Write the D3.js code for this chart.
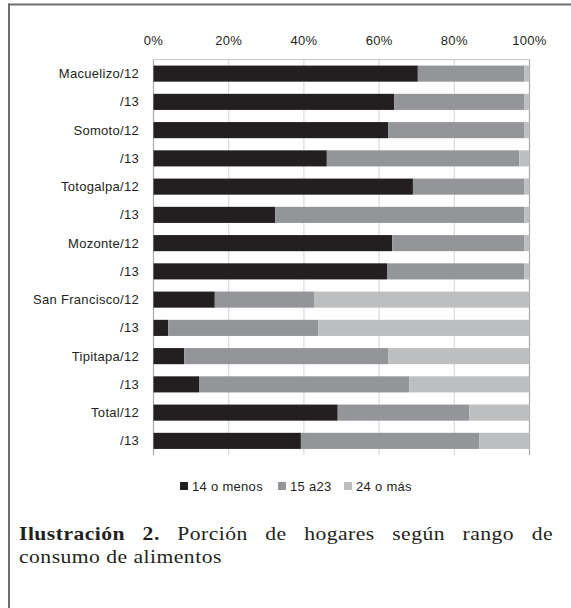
<!DOCTYPE html>
<html>
<head>
<meta charset="utf-8">
<script src="https://cdn.jsdelivr.net/npm/d3@7"></script>
<style>
  body { margin: 0; background: #fff; }
  svg { display: block; }
</style>
</head>
<body>
<svg id="chart" width="571" height="608"></svg>
<script>
// data (percent of households)
var categories = ["Macuelizo/12", "/13", "Somoto/12", "/13", "Totogalpa/12", "/13", "Mozonte/12", "/13",
                  "San Francisco/12", "/13", "Tipitapa/12", "/13", "Total/12", "/13"];
var menos14 = [70.3, 64.0, 62.4, 46.1, 69.0, 32.4, 63.5, 62.1, 16.3, 3.9, 8.2, 12.1, 49.0, 39.2];
var de15a23 = [28.3, 34.6, 36.2, 51.2, 29.6, 66.2, 35.1, 36.5, 26.4, 39.9, 54.2, 55.9, 35.0, 47.4];
var mas24   = [1.4, 1.4, 1.4, 2.7, 1.4, 1.4, 1.4, 1.4, 57.3, 56.2, 37.6, 32.0, 16.0, 13.4];
var seriesNames = ["14 o menos", "15 a23", "24 o más"];
var tickValues = [0, 20, 40, 60, 80, 100];

var colors = ["#231f20", "#939598", "#bcbec0"];

var svg = d3.select("#chart");

// page frame (top and left rules)
svg.append("line").attr("x1", 8).attr("x2", 571).attr("y1", 4.5).attr("y2", 4.5)
  .attr("stroke", "#6d6e71").attr("stroke-width", 2);
svg.append("line").attr("x1", 9).attr("x2", 9).attr("y1", 3.5).attr("y2", 608)
  .attr("stroke", "#6d6e71").attr("stroke-width", 2);

var plot = {left: 153.5, right: 529.5, top: 59.5, bottom: 455};

var x = d3.scaleLinear().domain([0, 100]).range([plot.left, plot.right]);
var y = d3.scaleBand()
  .domain(d3.range(categories.length))
  .range([plot.top, plot.bottom])
  .paddingInner(0.43)
  .paddingOuter(0.215);

var rows = categories.map(function(c, i){
  return {label: c, 0: menos14[i], 1: de15a23[i], 2: mas24[i]};
});
var stacked = d3.stack().keys([0, 1, 2])(rows);

var textFont = "'Liberation Sans', Arial, sans-serif";

// gridlines
svg.append("g").selectAll("line")
  .data(tickValues)
  .enter().append("line")
    .attr("x1", function(d){ return x(d); })
    .attr("x2", function(d){ return x(d); })
    .attr("y1", plot.top)
    .attr("y2", plot.bottom)
    .attr("stroke", function(d){ return (d == 0 || d == 100) ? "#a7a9ac" : "#d9d9d9"; })
    .attr("stroke-width", 1.2);

svg.append("line")
  .attr("x1", plot.left).attr("x2", plot.right)
  .attr("y1", plot.top).attr("y2", plot.top)
  .attr("stroke", "#c8c8c8").attr("stroke-width", 1);

// bars
svg.append("g")
  .selectAll("g")
  .data(stacked)
  .enter().append("g")
    .attr("fill", function(d, i){ return colors[i]; })
  .selectAll("rect")
  .data(function(d){ return d; })
  .enter().append("rect")
    .attr("x", function(d){ return x(d[0]); })
    .attr("width", function(d){ return x(d[1]) - x(d[0]); })
    .attr("y", function(d, i){ return y(i); })
    .attr("height", y.bandwidth());

// top axis labels
svg.append("g").selectAll("text")
  .data(tickValues)
  .enter().append("text")
    .attr("x", function(d){ return x(d); })
    .attr("y", 45)
    .attr("text-anchor", "middle")
    .style("font-family", textFont)
    .style("font-size", "13px")
    .style("letter-spacing", "0.3px")
    .attr("fill", "#231f20")
    .text(function(d){ return d + "%"; });

// category labels
svg.append("g").selectAll("text")
  .data(categories)
  .enter().append("text")
    .attr("x", 139)
    .attr("y", function(d, i){ return y(i) + y.bandwidth() / 2; })
    .attr("dy", "0.35em")
    .attr("text-anchor", "end")
    .style("font-family", textFont)
    .style("font-size", "13px")
    .style("letter-spacing", "0.3px")
    .attr("fill", "#231f20")
    .text(function(d){ return d; });

// legend
var legendX = [180, 278, 344];
var legend = svg.append("g").selectAll("g")
  .data(seriesNames)
  .enter().append("g")
    .attr("transform", function(d, i){ return "translate(" + legendX[i] + ",482)"; });
legend.append("rect")
  .attr("width", 8).attr("height", 8)
  .attr("fill", function(d, i){ return colors[i]; });
legend.append("text")
  .attr("x", 12).attr("y", 8.5)
  .style("font-family", textFont)
  .style("font-size", "13px")
  .style("letter-spacing", "0.3px")
  .attr("fill", "#231f20")
  .text(function(d){ return d; });

// caption: wide old-style serif, imitated by stretching a serif horizontally
var captionFont = "'Liberation Serif', 'Times New Roman', serif";
var capLeft = 19, capRight = 553, line2Width = 203;
var cap = svg.append("g");

var line2 = cap.append("text")
  .attr("y", 563)
  .style("font-family", captionFont)
  .style("font-size", "18px")
  .style("letter-spacing", "0.4px")
  .attr("fill", "#231f20")
  .text("consumo de alimentos");
var sx = line2Width / line2.node().getComputedTextLength();
cap.attr("transform", "translate(" + capLeft + ",0) scale(" + sx + ",1)");

// first line justified word by word
var line1 = [
  {t: "Ilustración", b: true}, {t: "2.", b: true}, {t: "Porción"}, {t: "de"},
  {t: "hogares"}, {t: "según"}, {t: "rango"}, {t: "de"}
];
var words = cap.selectAll("text.w")
  .data(line1)
  .enter().append("text")
    .attr("class", "w")
    .attr("y", 540)
    .style("font-family", captionFont)
    .style("font-size", "18px")
    .style("letter-spacing", "0.4px")
    .style("font-weight", function(d){ return d.b ? "bold" : "normal"; })
    .attr("fill", "#231f20")
    .text(function(d){ return d.t; });

var widths = [];
words.each(function(){ widths.push(this.getComputedTextLength()); });
var span = (capRight - capLeft) / sx;
var gap = (span - d3.sum(widths)) / (line1.length - 1);
var cursor = 0;
words.attr("x", function(d, i){
  var pos = cursor;
  cursor += widths[i] + gap;
  return pos;
});
</script>
</body>
</html>
